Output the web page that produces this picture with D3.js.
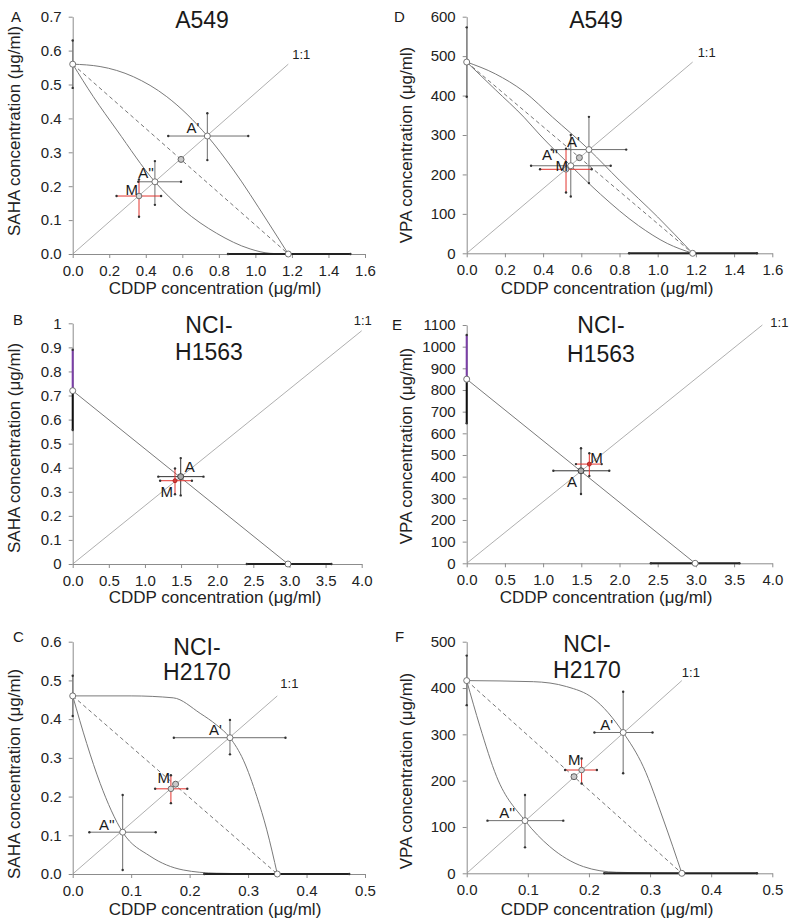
<!DOCTYPE html>
<html><head><meta charset="utf-8">
<script src="https://cdn.jsdelivr.net/npm/d3@7"></script>
<style>
body{margin:0;background:#fff;}
svg{font-family:"Liberation Sans",Arial,sans-serif;}
</style></head><body>
<svg id="chart" width="800" height="924"></svg>
<script>
// ---------------- DATA ----------------
const panelKeys = ["A","B","C","D","E","F"];
const cellLineNames = [["A549"],["NCI-","H1563"],["NCI-","H2170"],["A549"],["NCI-","H1563"],["NCI-","H2170"]];
const yAxisTitles = ["SAHA concentration (μg/ml)","SAHA concentration (μg/ml)","SAHA concentration (μg/ml)",
                     "VPA concentration (μg/ml)","VPA concentration (μg/ml)","VPA concentration (μg/ml)"];
const xAxisTitle = "CDDP concentration (μg/ml)";
const ratioLabel = "1:1";

const xDomainMax = [1.6, 4.0, 0.5, 1.6, 4.0, 0.5];
const yDomainMax = [0.7, 1, 0.6, 600, 1100, 500];

const xTicksSmall = [0,0.2,0.4,0.6,0.8,1.0,1.2,1.4,1.6];
const xTickLabelsSmall = ["0.0","0.2","0.4","0.6","0.8","1.0","1.2","1.4","1.6"];
const xTicksWide = [0,0.5,1,1.5,2,2.5,3,3.5,4];
const xTickLabelsWide = ["0.0","0.5","1.0","1.5","2.0","2.5","3.0","3.5","4.0"];
const xTicksTiny = [0,0.1,0.2,0.3,0.4,0.5];
const xTickLabelsTiny = ["0.0","0.1","0.2","0.3","0.4","0.5"];

const yTicksA = [0,0.1,0.2,0.3,0.4,0.5,0.6,0.7];
const yTickLabelsA = ["0.0","0.1","0.2","0.3","0.4","0.5","0.6","0.7"];
const yTicksB = [0,0.1,0.2,0.3,0.4,0.5,0.6,0.7,0.8,0.9,1];
const yTickLabelsB = ["0","0.1","0.2","0.3","0.4","0.5","0.6","0.7","0.8","0.9","1"];
const yTicksC = [0,0.1,0.2,0.3,0.4,0.5,0.6];
const yTickLabelsC = ["0.0","0.1","0.2","0.3","0.4","0.5","0.6"];
const yTicksD = [0,100,200,300,400,500,600];
const yTickLabelsD = ["0","100","200","300","400","500","600"];
const yTicksE = [0,100,200,300,400,500,600,700,800,900,1000,1100];
const yTickLabelsE = ["0","100","200","300","400","500","600","700","800","900","1000","1100"];
const yTicksF = [0,100,200,300,400,500];
const yTickLabelsF = ["0","100","200","300","400","500"];

// single-drug equi-effective doses (intercepts) and their confidence ranges
const yIntercept = [0.56, 0.72, 0.46, 485, 850, 416];
const yInterceptCI = [[0.49,0.63],[0.557,0.89],[0.408,0.512],[397,573],[646,1054],[363,470]];
const xIntercept = [1.18, 2.98, 0.35, 1.183, 2.99, 0.352];
const xInterceptCI = [[0.85,1.52],[2.41,3.58],[0.225,0.473],[0.85,1.52],[2.41,3.57],[0.225,0.475]];
// end of 1:1 ratio line
const ratioLineEnd = [[1.18,0.56],[4.0,0.969],[0.35,0.46],[1.183,485],[3.87,1100],[0.352,416]];

// isobole envelope curves
const upperA = [[0,0.56],[0.15,0.553],[0.332,0.523],[0.515,0.464],[0.737,0.348],[0.88,0.248],[1.062,0.1],[1.18,0]];
const lowerA = [[0,0.56],[0.113,0.464],[0.241,0.366],[0.45,0.213],[0.606,0.13],[0.788,0.061],[0.971,0.015],[1.08,0.002],[1.18,0]];
const upperC = [[0,0.46],[0.1,0.46],[0.172,0.455],[0.218,0.415],[0.246,0.385],[0.269,0.352],[0.292,0.294],[0.315,0.2],[0.332,0.114],[0.35,0]];
const lowerC = [[0,0.46],[0.024,0.337],[0.047,0.234],[0.0855,0.108],[0.132,0.0465],[0.189,0.0104],[0.246,0.002],[0.35,0]];
const upperD = [[0,485],[0.15,455],[0.3,410],[0.45,345],[0.64,263],[0.8,185],[1.0,92],[1.183,0]];
const lowerD = [[0,485],[0.15,415],[0.3,345],[0.384,300],[0.545,222],[0.7,150],[0.9,70],[1.05,25],[1.183,0]];
const upperF = [[0,416],[0.109,413.7],[0.1636,403],[0.207,377.7],[0.256,304],[0.289,230],[0.322,115],[0.352,0]];
const lowerF = [[0,416],[0.0218,316.5],[0.049,208.6],[0.0954,113.7],[0.136,57.6],[0.191,14.4],[0.245,2.2],[0.352,0]];
const upperIsoboles = [upperA, null, upperC, upperD, null, upperF];
const lowerIsoboles = [lowerA, null, lowerC, lowerD, null, lowerF];
const additiveLineDashed = [true, false, true, true, false, true];
const additivePoint = [[0.593,0.279], null, [0.176,0.232], [0.59,242.5], null, [0.1756,208.6]];

// experimental points with ranges
const pointsA = [
  {name:"A'",  x:0.737, y:0.348, xCI:[0.523,0.961], yCI:[0.277,0.415], kind:"iso"},
  {name:"A''", x:0.45,  y:0.213, xCI:[0.359,0.593], yCI:[0.145,0.274], kind:"iso"},
  {name:"M",   x:0.363, y:0.171, xCI:[0.24,0.484],  yCI:[0.11,0.22],   kind:"mix"}];
const pointsB = [
  {name:"A", x:1.495, y:0.363, xCI:[1.185,1.81], yCI:[0.285,0.44], kind:"add"},
  {name:"M", x:1.416, y:0.346, xCI:[1.21,1.65],  yCI:[0.29,0.397], kind:"mix"}];
const pointsC = [
  {name:"A'",  x:0.269,  y:0.352, xCI:[0.173,0.364],  yCI:[0.309,0.398],  kind:"iso"},
  {name:"A''", x:0.0855, y:0.108, xCI:[0.0285,0.142], yCI:[0.0103,0.204], kind:"iso"},
  {name:"M",   x:0.168,  y:0.22,  xCI:[0.141,0.196],  yCI:[0.183,0.255],  kind:"mix"}];
const pointsD = [
  {name:"A'",  x:0.64,  y:263, xCI:[0.445,0.835], yCI:[178,346], kind:"iso"},
  {name:"A''", x:0.545, y:222, xCI:[0.337,0.754], yCI:[144,300], kind:"iso"},
  {name:"M",   x:0.52,  y:213, xCI:[0.384,0.654], yCI:[154,265], kind:"mix"}];
const pointsE = [
  {name:"A", x:1.496, y:427, xCI:[1.134,1.866], yCI:[320,531], kind:"add"},
  {name:"M", x:1.605, y:458, xCI:[1.43,1.767],  yCI:[403,508], kind:"mix"}];
const pointsF = [
  {name:"A'",  x:0.256,  y:304,   xCI:[0.209,0.304], yCI:[216,392], kind:"iso"},
  {name:"A''", x:0.0954, y:113.7, xCI:[0.034,0.158], yCI:[56,169],  kind:"iso"},
  {name:"M",   x:0.188,  y:223,   xCI:[0.161,0.213], yCI:[194,248], kind:"mix"}];
const panelPoints = [pointsA, pointsB, pointsC, pointsD, pointsE, pointsF];

// ---------------- LAYOUT ----------------
const xTickSets = [xTicksSmall, xTicksWide, xTicksTiny, xTicksSmall, xTicksWide, xTicksTiny];
const xTickLabelSets = [xTickLabelsSmall, xTickLabelsWide, xTickLabelsTiny, xTickLabelsSmall, xTickLabelsWide, xTickLabelsTiny];
const yTickSets = [yTicksA, yTicksB, yTicksC, yTicksD, yTicksE, yTicksF];
const yTickLabelSets = [yTickLabelsA, yTickLabelsB, yTickLabelsC, yTickLabelsD, yTickLabelsE, yTickLabelsF];

const boxes = [
  {x0:72.7, x1:365,   y0:16.7,  y1:254},
  {x0:72.7, x1:361.7, y0:323.3, y1:564},
  {x0:72.7, x1:365,   y0:641.7, y1:874},
  {x0:466.7,x1:772.3, y0:16.7,  y1:253.3},
  {x0:466.7,x1:772.3, y0:325,   y1:563.3},
  {x0:466.7,x1:772.3, y0:641.7, y1:873.3}];
const titleLayout = [
  {x:202, ys:[28]}, {x:209, ys:[333,360]}, {x:197, ys:[655,680]},
  {x:596, ys:[28]}, {x:601, ys:[333,362]}, {x:587, ys:[652,678]}];
const letterLayout = [{x:11,y:22},{x:13,y:325},{x:13,y:642},{x:394,y:22},{x:392,y:330},{x:395,y:642}];
const xTitleLayout = [{x:215,y:294},{x:215,y:603},{x:215,y:915},{x:607,y:294},{x:606,y:603},{x:607,y:915}];
const yTitleLayout = [{x:20,y:131},{x:20,y:448},{x:20,y:774},{x:412,y:145},{x:412,y:446},{x:412,y:771}];
const ratioLabelOffset = [[4,-5],[-8,-6],[3,-8],[5,-5],[8,2],[0,-4]];
const pointLabelOffset = [
  {"A'":[-8,-3,"end"], "A''":[-1,-4,"end"], "M":[-1,-1,"end"]},
  {"A":[4,-5,"start"], "M":[-2,16,"end"]},
  {"A'":[-8,-3,"end"], "A''":[-8,-2,"end"], "M":[-1,-6,"end"]},
  {"A'":[-9,-3,"end"], "A''":[-13,-6,"end"], "M":[2,2,"end"]},
  {"A":[-4,16,"end"], "M":[1,-1,"start"]},
  {"A'":[-10,-2,"end"], "A''":[-10,-3,"end"], "M":[-1,-5,"end"]}];

const AXIS = "#8c8c8c", LINE = "#7a7a7a", TEXT = "#1a1a1a";
const barColor = {iso:"#6e6e6e", add:"#333333", mix:"#e3342f"};

const svg = d3.select("#chart");

panelKeys.forEach((key, i) => {
  const b = boxes[i];
  const sx = d3.scaleLinear().domain([0, xDomainMax[i]]).range([b.x0, b.x1]);
  const sy = d3.scaleLinear().domain([0, yDomainMax[i]]).range([b.y1, b.y0]);
  const g = svg.append("g").attr("class", "panel-" + key);

  // axes
  const xl = xTickLabelSets[i], yl = yTickLabelSets[i];
  const xa = d3.axisBottom(sx).tickValues(xTickSets[i]).tickFormat((d, k) => xl[k])
               .tickSizeInner(4).tickSizeOuter(0).tickPadding(7);
  const ya = d3.axisLeft(sy).tickValues(yTickSets[i]).tickFormat((d, k) => yl[k])
               .tickSizeInner(4).tickSizeOuter(0).tickPadding(7);
  const gx = g.append("g").attr("transform", `translate(0,${b.y1})`).call(xa);
  const gy = g.append("g").attr("transform", `translate(${b.x0},0)`).call(ya);
  [gx, gy].forEach(a => {
    a.attr("font-family", null).attr("font-size", null);
    a.select(".domain").attr("stroke", AXIS);
    a.selectAll(".tick line").attr("stroke", AXIS);
    a.selectAll(".tick text").attr("fill", "#222").style("font-size", "15px");
  });

  // 1:1 ratio line
  const re = ratioLineEnd[i];
  g.append("line").attr("x1", sx(0)).attr("y1", sy(0)).attr("x2", sx(re[0])).attr("y2", sy(re[1]))
    .attr("stroke", "#9a9a9a").attr("stroke-width", 0.8);
  g.append("text").attr("x", sx(re[0]) + ratioLabelOffset[i][0]).attr("y", sy(re[1]) + ratioLabelOffset[i][1])
    .text(ratioLabel).attr("fill", "#222").style("font-size", "13px");

  // additivity line
  g.append("line").attr("x1", sx(0)).attr("y1", sy(yIntercept[i])).attr("x2", sx(xIntercept[i])).attr("y2", sy(0))
    .attr("stroke", additiveLineDashed[i] ? "#666" : LINE).attr("stroke-width", additiveLineDashed[i] ? 0.9 : 1)
    .attr("stroke-dasharray", additiveLineDashed[i] ? "4,3" : null);

  // isobole envelope
  const lineGen = d3.line().x(d => sx(d[0])).y(d => sy(d[1])).curve(d3.curveMonotoneX);
  [upperIsoboles[i], lowerIsoboles[i]].forEach(c => {
    if (!c) return;
    g.append("path").attr("d", lineGen(c)).attr("fill", "none").attr("stroke", LINE).attr("stroke-width", 1);
  });

  // intercept ranges
  const yc = yInterceptCI[i], xc = xInterceptCI[i];
  if (i === 1 || i === 4) {
    g.append("line").attr("x1", sx(0)).attr("x2", sx(0)).attr("y1", sy(yIntercept[i])).attr("y2", sy(yc[1]))
      .attr("stroke", "#7b3fa8").attr("stroke-width", 2);
    g.append("line").attr("x1", sx(0)).attr("x2", sx(0)).attr("y1", sy(yc[0])).attr("y2", sy(yIntercept[i]))
      .attr("stroke", "#111").attr("stroke-width", 2);
  } else {
    g.append("line").attr("x1", sx(0)).attr("x2", sx(0)).attr("y1", sy(yc[0])).attr("y2", sy(yc[1]))
      .attr("stroke", "#777").attr("stroke-width", 1);
  }
  g.append("line").attr("x1", sx(xc[0])).attr("x2", sx(xc[1])).attr("y1", sy(0)).attr("y2", sy(0))
    .attr("stroke", "#222").attr("stroke-width", 2);
  const caps = [[sx(0), sy(yc[0])], [sx(0), sy(yc[1])], [sx(xc[0]), sy(0)], [sx(xc[1]), sy(0)]];

  // experimental points: error bars
  panelPoints[i].forEach(p => {
    const col = barColor[p.kind];
    g.append("line").attr("x1", sx(p.xCI[0])).attr("x2", sx(p.xCI[1])).attr("y1", sy(p.y)).attr("y2", sy(p.y))
      .attr("stroke", col).attr("stroke-width", 1);
    g.append("line").attr("x1", sx(p.x)).attr("x2", sx(p.x)).attr("y1", sy(p.yCI[0])).attr("y2", sy(p.yCI[1]))
      .attr("stroke", col).attr("stroke-width", 1);
    caps.push([sx(p.xCI[0]), sy(p.y)], [sx(p.xCI[1]), sy(p.y)], [sx(p.x), sy(p.yCI[0])], [sx(p.x), sy(p.yCI[1])]);
  });
  g.selectAll(".cap").data(caps).join("circle").attr("class", "cap")
    .attr("cx", d => d[0]).attr("cy", d => d[1]).attr("r", 1.2).attr("fill", "#333");

  // circles
  const openCircle = (cx, cy, fill, stroke, r) =>
    g.append("circle").attr("cx", cx).attr("cy", cy).attr("r", r).attr("fill", fill).attr("stroke", stroke).attr("stroke-width", 0.9);
  openCircle(sx(0), sy(yIntercept[i]), "#fff", "#666", 3);
  openCircle(sx(xIntercept[i]), sy(0), "#fff", "#666", 3);
  if (additivePoint[i]) openCircle(sx(additivePoint[i][0]), sy(additivePoint[i][1]), "#c8c8c8", "#555", 3);
  panelPoints[i].forEach(p => {
    if (p.kind === "iso") openCircle(sx(p.x), sy(p.y), "#fff", "#666", 3);
    else if (p.kind === "add") openCircle(sx(p.x), sy(p.y), "#a8a8a8", "#333", 3);
    else if (i === 1 || i === 4) openCircle(sx(p.x), sy(p.y), "#d23a34", "#b02020", 2);
    else openCircle(sx(p.x), sy(p.y), "#d9d9d9", "#666", 2.8);
    const o = pointLabelOffset[i][p.name];
    g.append("text").attr("x", sx(p.x) + o[0]).attr("y", sy(p.y) + o[1]).attr("text-anchor", o[2])
      .text(p.name).attr("fill", TEXT).style("font-size", "15px");
  });

  // titles
  const t = titleLayout[i];
  cellLineNames[i].forEach((s, k) => {
    g.append("text").attr("x", t.x).attr("y", t.ys[k]).attr("text-anchor", "middle")
      .text(s).attr("fill", TEXT).style("font-size", "23px");
  });
  g.append("text").attr("x", letterLayout[i].x).attr("y", letterLayout[i].y).text(key)
    .attr("fill", TEXT).style("font-size", "15px");
  g.append("text").attr("x", xTitleLayout[i].x).attr("y", xTitleLayout[i].y).attr("text-anchor", "middle")
    .text(xAxisTitle).attr("fill", "#222").style("font-size", "17px");
  g.append("text").attr("transform", `translate(${yTitleLayout[i].x},${yTitleLayout[i].y}) rotate(-90)`)
    .attr("text-anchor", "middle").text(yAxisTitles[i]).attr("fill", "#222").style("font-size", "17px");
});
</script>
</body></html>
